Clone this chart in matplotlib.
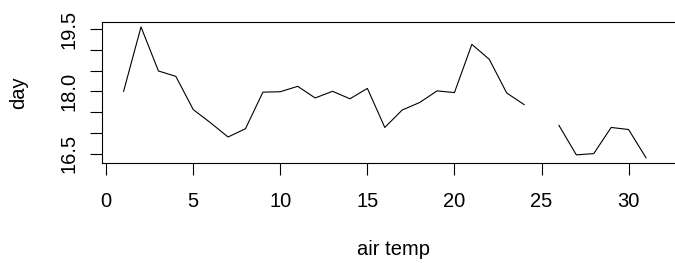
import numpy as np
import matplotlib
matplotlib.use("Agg")
import matplotlib.pyplot as plt

plt.rcParams['font.family'] = ['Liberation Sans', 'DejaVu Sans']

# daily values (day 25 missing)
days = list(range(1, 32))
temps = [18.0, 19.55, 18.49, 18.36, 17.56, 17.24, 16.90, 17.10, 17.98, 17.99,
         18.12, 17.84, 18.0, 17.82, 18.07, 17.13, 17.55, 17.73, 18.01, 17.97,
         19.13, 18.77, 17.96, 17.68, np.nan, 17.18, 16.47, 16.50, 17.13, 17.08,
         16.40]
xticks = [0, 5, 10, 15, 20, 25, 30]
yticks = [16.5, 17.0, 17.5, 18.0, 18.5, 19.0, 19.5]
ytick_labels = ['16.5', '', '', '18.0', '', '', '19.5']

W, H = 675, 263
fig = plt.figure(figsize=(W / 100, H / 100), dpi=100)
left, right, top, bottom = 102, 685, 21.7, 163
ax = fig.add_axes([left / W, 1 - bottom / H, (right - left) / W, (bottom - top) / H])

ax.plot(days, temps, color='black', lw=0.8)

ax.set_xlim(-0.24, 33.24)
ax.set_ylim(16.274, 19.676)
ax.set_xticks(xticks)
ax.set_yticks(yticks)
ax.set_yticklabels(ytick_labels, rotation=90, va='center')

for s in ax.spines.values():
    s.set_linewidth(0.8)
ax.tick_params(axis='both', length=8.6, width=0.8, labelsize=14.5, color='black')
ax.tick_params(axis='x', pad=12)
ax.tick_params(axis='y', pad=8.5)

fig.text(18.5 / W, 1 - 92.4 / H, 'day', rotation=90, ha='center', va='center', fontsize=14.5)
fig.text(393.5 / W, 1 - 255 / H, 'air temp', ha='center', va='baseline', fontsize=14.5)

fig.savefig('out.png', dpi=100)
